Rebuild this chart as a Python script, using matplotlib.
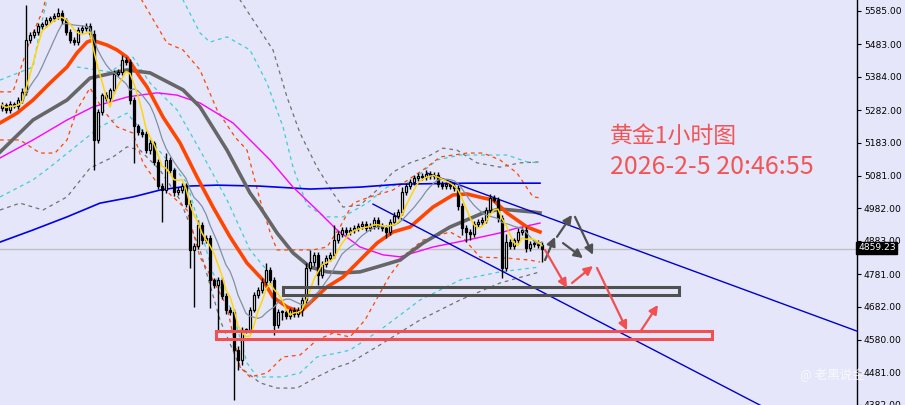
import matplotlib
matplotlib.use('Agg')
import matplotlib.pyplot as plt
import numpy as np
import pandas as pd
from matplotlib.patches import Rectangle

# ---------------- data (prices) ----------------
closes = [5298, 5282, 5301, 5295, 5313, 5338, 5496, 5512, 5521, 5539,
          5545, 5558, 5564, 5570, 5579, 5558, 5521, 5496, 5490, 5527,
          5533, 5539, 5515, 5191, 5276, 5328, 5319, 5344, 5393, 5399,
          5435, 5429, 5313, 5234, 5215, 5209, 5160, 5182, 5124, 5050,
          5038, 5130, 5099, 5032, 5038, 5050, 4995, 4855, 4867, 4931,
          4885, 4892, 4763, 4748, 4763, 4714, 4672, 4665, 4549, 4519,
          4610, 4610, 4672, 4717, 4733, 4757, 4794, 4763, 4626, 4665,
          4665, 4653, 4672, 4659, 4672, 4702, 4800, 4818, 4840, 4779,
          4812, 4830, 4840, 4885, 4904, 4916, 4910, 4916, 4922, 4928,
          4934, 4922, 4928, 4947, 4928, 4922, 4910, 4940, 4959, 4971,
          5032, 5050, 5063, 5075, 5081, 5078, 5087, 5081, 5084, 5056,
          5050, 5056, 5050, 5044, 4989, 4922, 4910, 4904, 4934, 4940,
          4947, 4977, 5014, 5008, 4953, 4800, 4879, 4867, 4885, 4910,
          4916, 4861, 4873, 4876, 4870, 4859]
first_open = 5290
wick_up = [8, 6, 10, 7, 9, 12, 107, 9, 8, 10,
           7, 9, 6, 8, 15, 9, 7, 8, 10, 9,
           8, 10, 9, 12, 10, 8, 9, 7, 12, 8,
           15, 9, 8, 10, 7, 9, 8, 10, 6, 9,
           8, 20, 9, 7, 10, 8, 9, 12, 8, 15,
           10, 8, 9, 7, 10, 8, 9, 8, 10, 12,
           10, 8, 9, 10, 8, 12, 21, 9, 8, 10,
           8, 9, 7, 10, 8, 9, 15, 37, 10, 9,
           8, 10, 9, 46, 8, 10, 9, 8, 10, 9,
           8, 10, 9, 8, 10, 9, 8, 10, 12, 9,
           15, 9, 8, 10, 9, 8, 12, 9, 8, 10,
           9, 8, 10, 9, 8, 10, 9, 8, 10, 9,
           8, 10, 12, 9, 8, 10, 25, 9, 8, 12,
           9, 8, 10, 9, 8, 9]
wick_dn = [9, 8, 10, 7, 9, 8, 10, 9, 8, 10,
           9, 8, 10, 9, 8, 12, 9, 10, 8, 9,
           8, 10, 9, 92, 10, 9, 8, 10, 9, 8,
           10, 9, 12, 114, 9, 10, 8, 12, 9, 10,
           98, 9, 10, 12, 9, 8, 10, 55, 174, 10,
           12, 9, 85, 10, 138, 9, 12, 10, 152, 31,
           14, 10, 9, 8, 10, 9, 8, 12, 31, 10,
           25, 9, 10, 8, 9, 20, 10, 8, 12, 30,
           9, 10, 8, 9, 10, 8, 9, 10, 8, 9,
           10, 9, 8, 10, 9, 8, 20, 10, 9, 8,
           10, 9, 8, 10, 9, 8, 10, 9, 8, 10,
           9, 8, 10, 9, 12, 20, 30, 20, 9, 10,
           8, 10, 9, 8, 12, 30, 10, 9, 8, 10,
           9, 12, 10, 9, 8, 40]

# moving averages (bar index, price)
red_x = [-0.5, 3.75, 7.75, 12, 16.25, 18.75, 21.25, 22.5, 26.25, 28.75, 31.25, 34.5, 36.25, 40.25,
         44.5, 48.75, 52.75, 57, 61.25, 65.25, 67.75, 71.25, 74.5, 77.75, 81.25, 85.25, 89.5,
         93.75, 97.75, 102, 107.75, 112.75, 116.25, 120.25, 122.75, 126.25, 131.25, 134.5]
red_y = [5243, 5273, 5313, 5365, 5414, 5457, 5490, 5496, 5481, 5466, 5444, 5383, 5353, 5261,
         5182, 5078, 4986, 4895, 4815, 4763, 4711, 4681, 4665, 4702, 4742, 4772, 4824,
         4876, 4910, 4925, 4986, 5023, 5026, 5014, 5008, 4968, 4925, 4910]
gth_x = [-0.5, 7.75, 16.25, 22, 31.25, 37, 45.25, 49.5, 56.25, 62, 64.5, 68.75, 72.75, 77,
         81.25, 85.25, 89.5, 93.75, 99.5, 105.25, 112, 120.25, 124.5, 132.75, 134.5]
gth_y = [5154, 5252, 5313, 5380, 5405, 5396, 5344, 5292, 5160, 5029, 4986, 4907, 4846, 4803,
         4788, 4785, 4788, 4803, 4824, 4876, 4925, 4968, 4980, 4971, 4968]
pink_x = [-0.5, 7.75, 16.25, 22.75, 31.25, 34.5, 38.75, 43.75, 49.5, 57.75, 67, 72.75, 78.75,
          83.75, 89.5, 95.25, 99.5, 107.75, 116.25, 124.5, 128.75, 134.5]
pink_y = [5136, 5191, 5252, 5292, 5322, 5328, 5335, 5328, 5304, 5243, 5130, 5047, 4977,
          4916, 4864, 4840, 4834, 4864, 4885, 4907, 4922, 4937]
blue_x = [-0.5, 7.75, 16.25, 24.5, 32.75, 39.5, 46.25, 53.75, 64.5, 77, 89.5, 99.5, 116.25, 134.5]
blue_y = [4879, 4916, 4956, 4998, 5017, 5038, 5050, 5053, 5050, 5041, 5047, 5056, 5059, 5059]

# band lines (dashed)
oru_x = [-0.5, 2.75, 7, 10.25, 12, 32, 35.25, 41.25, 45.25, 49.5, 53.75, 58.25, 61.25, 64.5,
         67, 68.75, 74.5, 77.75, 81.25, 84.5, 87.75, 92, 97.75, 106.25, 109.5, 116.25, 120.25,
         124.5, 128.75, 132.75, 134.5]
oru_y = [5338, 5338, 5496, 5588, 5680, 5680, 5612, 5487, 5466, 5405, 5283, 5200, 5160, 5008,
         4910, 4855, 4855, 4855, 4864, 4925, 4998, 5017, 5038, 5108, 5139, 5151, 5151,
         5130, 5090, 5017, 5014]
orl_x = [-0.5, 4.5, 9.5, 13.25, 16.25, 18.75, 22, 25.25, 28.75, 32.75, 35.25, 38.75, 42.75,
         46.25, 49.5, 52.75, 56.25, 59.5, 62, 66.25, 70.25, 74.5, 78.75, 82.75, 87, 90.75, 97,
         101.25, 105.25, 112, 115.75, 119.5, 126.25, 132, 134.5]
orl_y = [5191, 5191, 5151, 5151, 5191, 5283, 5350, 5283, 5231, 5212, 5121, 5060, 5017,
         4977, 4833, 4763, 4681, 4497, 4467, 4479, 4528, 4534, 4580, 4601, 4589, 4641, 4778,
         4846, 4885, 4910, 4885, 4833, 4830, 4824, 4818]
cyu_x = [-0.5, 7.75, 9.5, 11.25, 13.25, 43.25, 45.25, 49.5, 52, 56.25, 62, 66.25, 70.25, 72.75,
         76.25, 80.75, 85.25, 91.25, 96.25, 102, 108.75, 114.5, 126.25, 131.25, 134.5]
cyu_y = [5374, 5414, 5527, 5619, 5680, 5680, 5619, 5518, 5490, 5506, 5466, 5365, 5231, 5108,
         4992, 4956, 4956, 4998, 5047, 5063, 5130, 5145, 5145, 5124, 5121]
cyl_x = [-0.5, 7.75, 12, 24.5, 31.25, 37, 46.25, 52.75, 57.75, 61.25, 63.75, 70.25, 74.5,
         78.75, 83.75, 87, 94.5, 104.5, 114.5, 124.5, 134.5]
cyl_y = [5017, 5069, 5108, 5231, 5273, 5191, 5060, 4785, 4662, 4510, 4467, 4467, 4479,
         4528, 4540, 4549, 4610, 4702, 4763, 4788, 4803]
cyi_x = [18.75, 27, 32.75, 37, 43.75, 49.5, 56.25, 62, 65.75]
cyi_y = [5414, 5399, 5444, 5365, 5283, 5160, 5008, 4855, 4800]
gru_x = [57, 59.5, 62.75, 67.75, 71.25, 74.5, 78.75, 82.75, 85.25, 89.5, 93.75, 97.75, 102,
         106.25, 110.25, 113.75, 118.75, 124.5, 129.5, 134.5]
gru_y = [5680, 5619, 5558, 5466, 5322, 5212, 5108, 5029, 4986, 4992, 5038, 5093, 5121,
         5139, 5166, 5160, 5121, 5108, 5121, 5124]
grl_x = [-0.5, 4.5, 10.25, 16.25, 22, 27.75, 31.25, 34.5, 39.5, 44.5, 49.5, 54.5, 59.5, 64.5,
         68.75, 73.75, 78.75, 83.75, 87, 94.5, 104.5, 114.5, 124.5, 134.5]
grl_y = [4977, 4998, 4977, 5017, 5105, 5139, 5170, 5160, 5099, 5008, 4855, 4641, 4497, 4449,
         4433, 4433, 4467, 4497, 4510, 4565, 4641, 4702, 4754, 4788]

# drawings
chan_up_x = [106.25, 213.75]
chan_up_y = [5090, 4607]
chan_lo_x = [92.75, 213.75]
chan_lo_y = [4995, 4227]
box_gray = (70.25, 169.25, 4718, 4742)
box_red = (53.5, 177.5, 4584, 4608)
gray_arrows = [((135.75, 4824), (138.25, 4895)), ((138.75, 4895), (142.5, 4962)),
               ((143.25, 4956), (147.75, 4840)), ((140.25, 4876), (145.25, 4830))]
red_arrows = [((135.75, 4855), (141.25, 4739)), ((142.5, 4754), (147.75, 4806)),
              ((148.75, 4800), (156.25, 4610)), ((159.5, 4604), (164.0, 4687))]
yticks = [5585, 5483, 5384, 5282, 5183, 5081, 4982, 4883, 4781, 4682, 4580, 4481, 4382]
last_price = 4859.23
title1 = "黄金1小时图"
title2 = "2026-2-5 20:46:55"

# ---------------- figure ----------------
BG = '#E6E6FA'
fig = plt.figure(figsize=(9.05, 4.05), dpi=100)
fig.patch.set_facecolor(BG)
ax = fig.add_axes([0, 0, 857 / 905, 1])
ax.set_facecolor(BG)
ax.set_xlim(-0.5, 213.75)
ax.set_ylim(4381.3, 5618.6)

# current price line
ax.axhline(last_price, color='#C0C0C0', lw=1.0, zorder=1)

dash = (0, (3, 3))
ax.plot(grl_x, grl_y, color='#707070', lw=0.9, ls=dash, zorder=2)
ax.plot(gru_x, gru_y, color='#707070', lw=0.9, ls=dash, zorder=2)
ax.plot(cyu_x, cyu_y, color='#3CCFD0', lw=0.9, ls=dash, zorder=2)
ax.plot(cyl_x, cyl_y, color='#3CCFD0', lw=0.9, ls=dash, zorder=2)
ax.plot(cyi_x, cyi_y, color='#3CCFD0', lw=0.9, ls=dash, zorder=2)
ax.plot(oru_x, oru_y, color='#FF4500', lw=0.9, ls=dash, zorder=2)
ax.plot(orl_x, orl_y, color='#FF4500', lw=0.9, ls=dash, zorder=2)

ax.plot(blue_x, blue_y, color='#0000EE', lw=1.2, zorder=3)
ax.plot(pink_x, pink_y, color='#FF00FF', lw=1.0, zorder=3)
ax.plot(gth_x, gth_y, color='#666666', lw=2.6, zorder=3)
ax.plot(red_x, red_y, color='#FF4500', lw=2.6, zorder=3)

# channel lines
ax.plot(chan_up_x, chan_up_y, color='#0000CC', lw=1.0, zorder=3)
ax.plot(chan_lo_x, chan_lo_y, color='#0000CC', lw=1.0, zorder=3)

# candles
n = len(closes)
idx = np.arange(n)
opens = np.array([first_open] + closes[:-1], dtype=float)
cl = np.array(closes, dtype=float)
top = np.maximum(opens, cl)
bot = np.minimum(opens, cl)
highs = top + np.array(wick_up)
lows = bot - np.array(wick_dn)
ax.vlines(idx, lows, highs, color='black', lw=1.0, zorder=4)
bull = cl >= opens
h = np.maximum(top - bot, 2.5)
ax.bar(idx[bull], h[bull], bottom=bot[bull], width=0.72, color='white',
       edgecolor='black', lw=0.9, zorder=5)
ax.bar(idx[~bull], h[~bull], bottom=bot[~bull], width=0.72, color='black',
       edgecolor='black', lw=0.9, zorder=5)

# short averages from closes
s = pd.Series(closes, dtype=float)
ma5 = s.rolling(5, min_periods=1).mean()
ma10 = s.rolling(10, min_periods=1).mean()
ax.plot(idx, ma10, color='#8090A0', lw=0.9, zorder=6)
ax.plot(idx, ma5, color='#FFD700', lw=1.1, zorder=6)

# boxes
for (x0, x1, y0, y1), col in [(box_gray, '#505050'), (box_red, '#F25050')]:
    ax.add_patch(Rectangle((x0, y0), x1 - x0, y1 - y0, fill=False, edgecolor=col,
                           lw=2.2, zorder=6))

# arrows
for arrows, col in [(gray_arrows, '#505050'), (red_arrows, '#F25050')]:
    for (p0, p1) in arrows:
        ax.annotate('', xy=p1, xytext=p0,
                    arrowprops=dict(arrowstyle='-|>', color=col, lw=1.6,
                                    mutation_scale=13, shrinkA=0, shrinkB=0),
                    zorder=7)

# axis styling
for sp in ['left', 'top', 'bottom']:
    ax.spines[sp].set_visible(False)
ax.spines['right'].set_color('black')
ax.spines['right'].set_linewidth(1.0)
ax.set_xticks([])
ax.yaxis.tick_right()
ax.set_yticks(yticks)
ax.set_yticklabels([f"{v:.2f}" for v in yticks])
ax.tick_params(axis='y', direction='out', length=3, width=0.8, labelsize=6.6,
               pad=2, colors='black')

# current price tag
fig.text(858 / 905, 1 - 248 / 405, f"{last_price:.2f}", color='white', fontsize=6.6,
         va='center', ha='left',
         bbox=dict(boxstyle='square,pad=0.18', facecolor='black', edgecolor='black'))

# titles
cjk = ['Noto Sans CJK SC', 'DejaVu Sans']
fig.text(610 / 905, 1 - 143 / 405, title1, color='#F25555', fontsize=16.5,
         family=cjk, va='baseline', ha='left')
fig.text(610 / 905, 1 - 174 / 405, title2, color='#F25555', fontsize=18,
         family=cjk, va='baseline', ha='left')

# watermark
fig.text(800 / 905, 1 - 374 / 405, "@ 老黑说金", color='white', alpha=0.75, fontsize=9,
         family=cjk, va='center', ha='left')

fig.savefig('out.png', dpi=100, facecolor=BG)
